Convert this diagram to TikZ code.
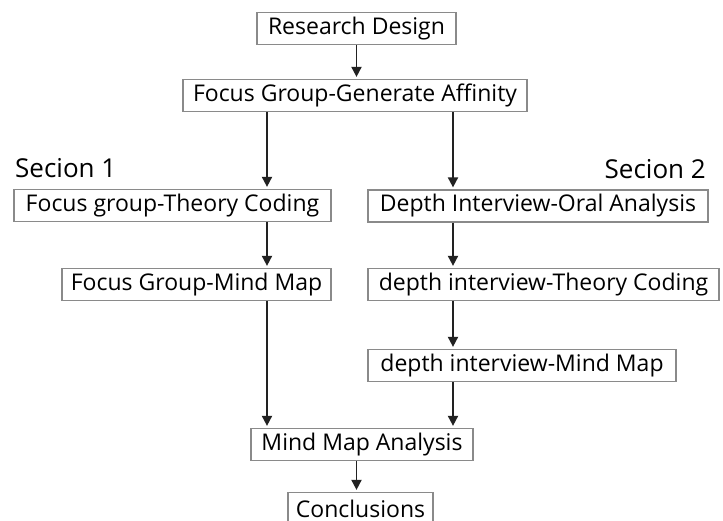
\documentclass[tikz,border=0pt]{standalone}
\usepackage{fontspec}
\setmainfont{Open Sans}
\usetikzlibrary{arrows.meta}
\definecolor{boxline}{HTML}{8A8A8A}
\definecolor{flowline}{HTML}{222222}

\begin{document}
\begin{tikzpicture}[x=1pt, y=1pt,
    stage/.style={draw=boxline, line width=1.2pt, inner sep=0pt, minimum height=32pt,
        font=\fontsize{23}{25}\selectfont},
    section/.style={font=\fontsize{26}{28}\selectfont, inner sep=0pt},
    flow/.style={draw=flowline, line width=1.8pt, shorten >=2pt,
        -{Triangle[length=10pt, width=10pt]}}]
    %%%%% START %%%%%
    \useasboundingbox (0, 0) rectangle (723, 521);

    \coordinate (colL) at (267, 0);
    \coordinate (colR) at (453, 0);

    \node[stage, minimum width=199pt] (design) at (356.5, 492.5) {Research Design};
    \node[stage, minimum width=344pt] (affinity) at (355, 425.5) {Focus Group-Generate Affinity};

    \node[section, anchor=base west] (sec1) at (15, 343) {Secion 1};
    \node[section, anchor=base east] (sec2) at (706, 342) {Secion 2};

    \node[stage, minimum width=317pt] (fgcoding) at (172.5, 315.5) {Focus group-Theory Coding};
    \node[stage, minimum width=269pt] (fgmap) at (196.5, 236.5) {Focus Group-Mind Map};

    \node[stage, minimum width=340pt] (dioral) at (538, 315) {Depth Interview-Oral Analysis};
    \node[stage, minimum width=351pt] (dicoding) at (543.5, 236.5) {depth interview-Theory Coding};
    \node[stage, minimum width=308pt] (dimap) at (522, 155.5) {depth interview-Mind Map};

    \node[stage, minimum width=222pt] (analysis) at (362, 76.5) {Mind Map Analysis};
    \node[stage, minimum width=145pt] (conclude) at (360.5, 12.5) {Conclusions};

    \draw[flow] (design.south) -- (affinity.north -| design.south);

    \draw[flow] (affinity.south -| colL) -- (fgcoding.north -| colL);
    \draw[flow] (fgcoding.south -| colL) -- (fgmap.north -| colL);
    \draw[flow] (fgmap.south -| colL) -- (analysis.north -| colL);

    \draw[flow] (affinity.south -| colR) -- (dioral.north -| colR);
    \draw[flow] (dioral.south -| colR) -- (dicoding.north -| colR);
    \draw[flow] (dicoding.south -| colR) -- (dimap.north -| colR);
    \draw[flow] (dimap.south -| colR) -- (analysis.north -| colR);

    \draw[flow] (analysis.south -| design.south) -- (conclude.north -| design.south);
    %%%%% END %%%%%
\end{tikzpicture}
\end{document}
